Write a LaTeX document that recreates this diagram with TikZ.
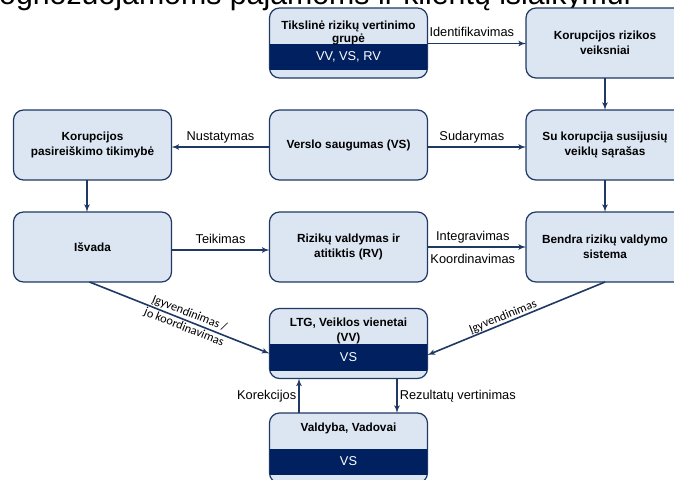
\documentclass[tikz,border=0pt]{standalone}
\usepackage{fontspec}
\setmainfont{Liberation Sans}
\newfontfamily\labfont{Carlito}
\usetikzlibrary{arrows}
\definecolor{boxfill}{RGB}{220,230,242}
\definecolor{boxline}{RGB}{31,56,100}
\definecolor{bandfill}{RGB}{0,32,96}
\tikzset{box/.style = {draw=boxline, fill=boxfill, line width=1.2pt, rounded corners=10pt,
                       outer sep=0pt, minimum width=158pt, minimum height=70pt, align=center,
                       font=\fontsize{11.8}{15}\selectfont\bfseries}}
\tikzset{boxtext/.style = {align=center, inner sep=0pt, font=\fontsize{11.8}{15}\selectfont\bfseries}}
\tikzset{bandtext/.style = {text=white, inner sep=0pt, font=\fontsize{12.8}{15}\selectfont}}
\tikzset{flow/.style = {draw=boxline, line width=1.6pt, -latex'}}
\tikzset{lab/.style = {anchor=base, yshift=7pt, font=\fontsize{12.8}{15}\selectfont}}
\tikzset{side/.style = {inner sep=2pt, font=\fontsize{12.8}{15}\selectfont}}
\tikzset{slopelab/.style = {sloped, align=center, inner sep=1pt, font=\labfont\fontsize{12.3}{15}\selectfont}}

\begin{document}
\begin{tikzpicture}[x=1pt, y=-1pt]
  \useasboundingbox (0,0) rectangle (674,479);
  \clip (0,0) rectangle (674,479);

  \node [anchor=base west, inner sep=0pt, font=\fontsize{30.3}{36}\selectfont] (title) at (-1,4.5)
    {ognozuojamoms pajamoms ir klientų išlaikymui};

  \node [box] (tg) at (348.5,43) {};
  \node [box] (kr) at (605,43) {Korupcijos rizikos\\veiksniai};
  \node [box] (kp) at (92.5,145) {Korupcijos\\pasireiškimo tikimybė};
  \node [box] (vs) at (348.5,145) {Verslo saugumas (VS)};
  \node [box] (sk) at (605,145) {Su korupcija susijusių\\veiklų sąrašas};
  \node [box] (isv) at (92.5,247) {Išvada};
  \node [box] (rv) at (348.5,247) {Rizikų valdymas ir\\atitiktis (RV)};
  \node [box] (brv) at (605,247) {Bendra rizikų valdymo\\sistema};
  \node [box] (ltg) at (348.5,343.5) {};
  \node [box] (val) at (348.5,448) {};

  \foreach \b in {tg, ltg, val}
    \fill [bandfill] ([xshift=0.6pt, yshift=-35.5pt]\b.north west) rectangle ([xshift=-0.6pt, yshift=-62pt]\b.north east);

  \node [boxtext, font=\fontsize{11.8}{12.5}\selectfont\bfseries] (tgtext) at (348.5,33) {Tikslinė rizikų vertinimo\\grupė};
  \node [boxtext] (ltgtext) at (348.5,331) {LTG, Veiklos vienetai\\(VV)};
  \node [boxtext] (valtext) at (348.5,428) {Valdyba, Vadovai};
  \node [bandtext] (tgband) at (348.5,57) {VV, VS, RV};
  \node [bandtext] (ltgband) at (348.5,357.5) {VS};
  \node [bandtext] (valband) at (348.5,461.5) {VS};

  \draw [flow] ([yshift=-0.5pt]tg.east) -- ([yshift=-0.5pt]kr.west) node [lab, pos=0.45] {Identifikavimas};
  \draw [flow] (kr) -- (sk);
  \draw [flow] ([yshift=-2pt]vs.west) -- ([yshift=-2pt]kp.east) node [lab, midway] {Nustatymas};
  \draw [flow] ([yshift=-2pt]vs.east) -- ([yshift=-2pt]sk.west) node [lab, pos=0.45] {Sudarymas};
  \draw [flow] ([xshift=-5.5pt]kp.south) -- ([xshift=-5.5pt]isv.north);
  \draw [flow] (sk) -- (brv);
  \draw [flow] ([yshift=-3pt]isv.east) -- ([yshift=-3pt]rv.west) node [lab, midway] {Teikimas};
  \draw [flow] (rv) -- (brv) node [lab, pos=0.46] {Integravimas}
    node [lab, pos=0.46, yshift=-23pt] {Koordinavimas};

  \draw [flow] ([xshift=-3pt]isv.south) -- ([yshift=-10pt]ltg.west)
    node [slopelab, pos=0.54] {Įgyvendinimas /\\jo koordinavimas};
  \draw [flow] (brv.south) -- ([yshift=-11.5pt]ltg.east);
  \path ([yshift=-11.5pt]ltg.east) -- (brv.south) node [slopelab, above, pos=0.44] {Įgyvendinimas};

  \draw [flow] ([xshift=-49.5pt]val.north) -- ([xshift=-49.5pt]ltg.south) node [side, midway, left] {Korekcijos};
  \draw [flow] ([xshift=48.5pt]ltg.south) -- ([xshift=48.5pt]val.north) node [side, midway, right] {Rezultatų vertinimas};
\end{tikzpicture}
\end{document}
